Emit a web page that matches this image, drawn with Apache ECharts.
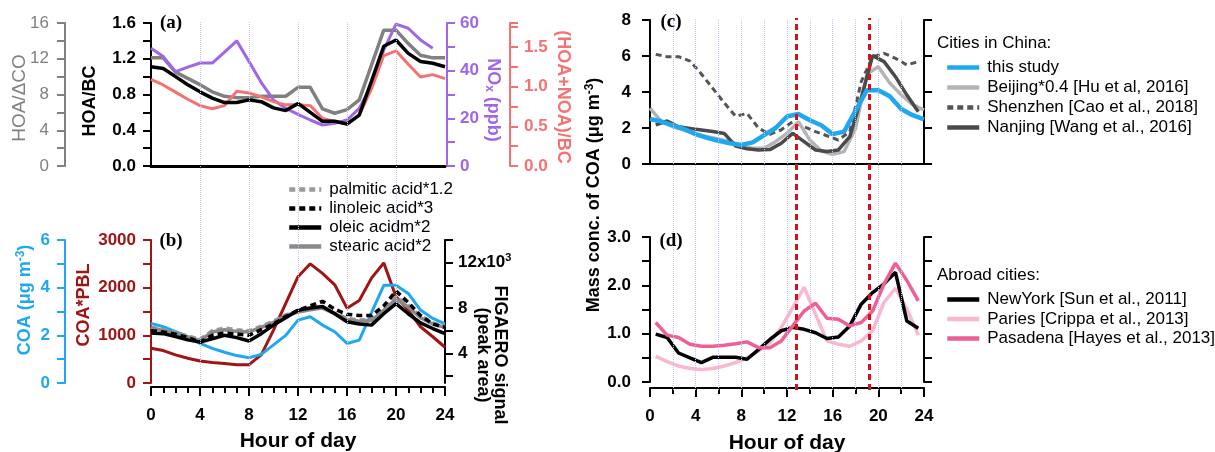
<!DOCTYPE html>
<html><head><meta charset="utf-8">
<script src="https://cdn.jsdelivr.net/npm/echarts@6/dist/echarts.min.js"></script>
<style>html,body{margin:0;padding:0;background:#fff}#c{width:1215px;height:452px}</style>
</head><body><div id="c"></div>
<script>
// ---------- data ----------
const hours = [0,1,2,3,4,5,6,7,8,9,10,11,12,13,14,15,16,17,18,19,20,21,22,23,24];
const hours23 = [0,1,2,3,4,5,6,7,8,9,10,11,12,13,14,15,16,17,18,19,20,21,22,23];
const halfHours = [0.5,1.5,2.5,3.5,4.5,5.5,6.5,7.5,8.5,9.5,10.5,11.5,12.5,13.5,14.5,15.5,16.5,17.5,18.5,19.5,20.5,21.5,22.5,23.5];

// panel (a)
const hoaBC     = [1.11,1.09,1.00,0.91,0.83,0.76,0.71,0.71,0.74,0.72,0.65,0.62,0.70,0.60,0.50,0.50,0.47,0.57,0.95,1.34,1.41,1.26,1.17,1.15,1.11];
const hoaDCO    = [12.1,12.1,10.5,9.8,9.1,8.3,7.8,7.65,7.65,7.8,7.8,7.8,8.8,8.8,6.4,5.9,6.3,7.4,11.3,15.2,15.2,13.7,12.4,12.1,12.1];
const noxPpb    = [49.4,45.9,39.6,41.5,43.2,43.2,47.8,52.5,43.8,35.0,27.7,24.2,21.7,19.3,17.2,17.9,19.3,24.2,34.0,48.7,59.5,57.8,52.9,49.4];
const hoaNoaBC  = [1.09,1.02,0.93,0.84,0.76,0.72,0.76,0.94,0.92,0.87,0.81,0.77,0.77,0.76,0.60,0.56,0.53,0.64,0.97,1.39,1.45,1.28,1.12,1.15,1.10];

// panel (b)
const coaPBL    = [730,680,590,520,460,430,410,385,385,590,1110,1670,2230,2500,2300,2060,1570,1730,2200,2520,1810,1530,1180,970,750];
const coa       = [2.50,2.36,2.15,1.94,1.66,1.45,1.29,1.15,1.06,1.20,1.60,2.00,2.64,2.78,2.43,2.15,1.66,1.80,2.95,4.10,4.10,3.76,3.06,2.71,2.48];
const palmitic  = [6.3,6.1,5.85,5.55,5.25,6.0,6.25,6.1,6.0,6.4,6.85,7.4,7.7,7.9,8.1,7.55,7.1,6.95,7.0,7.9,9.0,8.3,7.3,6.7,6.4];
const linoleic  = [6.0,5.9,5.7,5.4,5.0,5.6,5.8,5.7,5.6,6.1,6.6,7.25,7.8,8.2,8.6,7.9,7.45,7.35,7.35,8.2,9.5,8.5,7.35,6.6,6.3];
const oleic     = [5.8,5.75,5.5,5.2,5.0,5.3,5.6,5.4,5.1,5.75,6.5,7.15,7.8,8.0,8.15,7.5,6.8,6.6,6.5,7.5,8.4,7.5,6.7,6.2,5.75];
const stearic   = [6.3,6.0,5.75,5.45,5.15,5.9,6.1,5.95,5.9,6.3,6.75,7.35,7.65,7.85,8.0,7.5,7.0,6.85,6.9,7.8,8.8,8.1,7.15,6.6,6.3];

// panel (c)
const beijing04 = [3.1,2.35,2.07,1.89,1.65,1.52,1.39,1.24,1.02,0.87,0.87,1.24,1.70,2.35,1.33,0.72,0.54,0.69,1.98,5.0,5.4,4.5,3.85,3.3,3.0];
const shenzhen  = [6.09,5.96,5.96,5.72,5.0,4.2,3.4,2.65,2.81,2.0,1.65,1.9,2.35,2.07,1.8,1.57,1.33,1.8,4.57,5.96,6.15,5.87,5.5,5.69];
const nanjing   = [2.17,2.39,2.07,1.98,1.89,1.80,1.70,1.0,0.85,0.78,0.80,1.15,1.70,1.24,0.78,0.69,0.78,1.52,3.65,6.02,5.69,4.85,3.83,2.9];

// panel (d)
const newYork   = [0.99,0.92,0.60,0.50,0.40,0.51,0.51,0.51,0.47,0.67,0.88,1.06,1.13,1.09,1.02,0.90,0.93,1.16,1.61,1.85,2.03,2.27,1.26,1.11];
const paris     = [0.53,0.42,0.33,0.28,0.26,0.28,0.33,0.40,0.50,0.64,0.81,1.13,1.54,1.96,1.40,0.85,0.78,0.74,0.85,1.06,1.65,1.94,1.51,0.97];
const pasadena  = [1.23,0.97,0.92,0.78,0.74,0.74,0.76,0.79,0.83,0.71,0.71,0.85,1.16,1.47,1.63,1.32,1.30,1.16,1.23,1.47,2.03,2.46,2.10,1.68];

// guide lines / markers
const guideHoursAB = [4,8,12,16,20];
const guideHoursCD = [2,4,6,8,10,12,14,16,18,20,22];
const peakHours = [12.85, 19.2];

// ---------- chart ----------
const F = '"Liberation Sans", Arial, sans-serif';
const pairs = (xs, ys) => ys.map((v, i) => [xs[i], v]);
const fmt = (step, dec) => v => (Math.abs(v / step - Math.round(v / step)) < 1e-6 ? v.toFixed(dec) : '');

function yAx(o) {
  return {
    type: 'value', gridIndex: o.grid, position: o.pos || 'left', offset: o.offset || 0,
    min: o.min, max: o.max, interval: o.interval,
    axisLine: { show: true, onZero: false, lineStyle: { color: o.color, width: 2 } },
    axisTick: Object.assign({ show: true, length: 8, lineStyle: { color: o.color, width: 2 } }, o.tick || {}),
    axisLabel: Object.assign({ show: o.label !== false, color: o.color, fontSize: 17, fontFamily: F,
      fontWeight: o.bold === false ? 'normal' : 'bold', margin: o.margin || 14, formatter: o.fmt }, o.labelExtra || {}),
    splitLine: { show: false }
  };
}
function line(name, xi, yi, xs, ys, color, width, type, z) {
  return { name, type: 'line', xAxisIndex: xi, yAxisIndex: yi, data: pairs(xs, ys), symbol: 'none',
    lineStyle: { color, width, type: type || 'solid' }, itemStyle: { color }, z: z || 3, silent: true, animation: false };
}

const C = {
  gray: '#808080', purple: '#a066e6', salmon: '#f47272', blue: '#1fa8f0', dred: '#a01414',
  lgray: '#b4b4b4', dgray: '#555555', pinkL: '#f8b8d0', pink: '#ee5f98', red: '#d8101c', guide: '#c4c4f0'
};

const legendBase = { orient: 'vertical', itemWidth: 32, itemHeight: 18, selectedMode: false,
  itemStyle: { opacity: 0, borderWidth: 0 },
  lineStyle: { width: 4.5 },
  textStyle: { fontFamily: F, fontSize: 17, color: '#000', padding: [0, 0, 0, 3] } };

const option = {
  animation: false,
  backgroundColor: '#fff',
  grid: [
    { left: 151, top: 23, width: 294, height: 143 },   // a
    { left: 151, top: 240, width: 294, height: 143 },  // b
    { left: 650, top: 20, width: 274, height: 144 },   // c
    { left: 650, top: 237, width: 274, height: 145 },  // d
    { left: 151, top: 22, width: 294, height: 361 },   // guides a/b
    { left: 650, top: 18, width: 274, height: 372 }    // guides c/d
  ],
  xAxis: [
    { type: 'value', gridIndex: 0, min: 0, max: 24, axisLine: { lineStyle: { color: '#000', width: 3 } },
      axisTick: { show: false }, axisLabel: { show: false }, splitLine: { show: false } },
    { type: 'value', gridIndex: 1, min: 0, max: 24, interval: 4, offset: 4,
      axisLine: { onZero: false, lineStyle: { color: '#000', width: 2 } },
      axisTick: { length: 9, lineStyle: { color: '#000', width: 2 } },
      minorTick: { show: true, splitNumber: 4, length: 6, lineStyle: { color: '#000', width: 2 } },
      axisLabel: { color: '#000', fontSize: 17, fontWeight: 'bold', fontFamily: F, margin: 20 },
      splitLine: { show: false } },
    { type: 'value', gridIndex: 2, min: 0, max: 24, axisLine: { onZero: false, lineStyle: { color: '#000', width: 2 } },
      axisTick: { show: false }, axisLabel: { show: false }, splitLine: { show: false } },
    { type: 'value', gridIndex: 3, min: 0, max: 24, interval: 4, offset: 6,
      axisLine: { onZero: false, lineStyle: { color: '#000', width: 2 } },
      axisTick: { length: 9, lineStyle: { color: '#000', width: 2 } },
      minorTick: { show: true, splitNumber: 2, length: 6, lineStyle: { color: '#000', width: 2 } },
      axisLabel: { color: '#000', fontSize: 17, fontWeight: 'bold', fontFamily: F, margin: 20 },
      splitLine: { show: false } },
    { type: 'value', gridIndex: 4, min: 0, max: 24, show: false },
    { type: 'value', gridIndex: 5, min: 0, max: 24, show: false }
  ],
  yAxis: [
    yAx({ grid: 0, min: 0, max: 1.6, interval: 0.2, color: '#000', fmt: fmt(0.4, 1), margin: 15 }),                         // 0 HOA/BC
    yAx({ grid: 0, min: 0, max: 16, interval: 2, color: C.gray, fmt: fmt(4, 0), offset: 86, bold: false, margin: 16 }),    // 1 HOA/dCO
    yAx({ grid: 0, pos: 'right', offset: 2, min: 0, max: 60, interval: 10, color: C.purple, fmt: fmt(20, 0), margin: 13 }), // 2 NOx
    yAx({ grid: 0, pos: 'right', offset: 65, min: 0, max: 1.8, interval: 0.25, color: C.salmon, fmt: fmt(0.5, 1), margin: 14 }), // 3
    yAx({ grid: 1, min: 0, max: 3000, interval: 500, color: C.dred, fmt: fmt(1000, 0), margin: 15 }),                       // 4 COA*PBL
    yAx({ grid: 1, min: 0, max: 6, interval: 1, color: C.blue, fmt: fmt(2, 0), offset: 86, margin: 15 }),                   // 5 COA
    yAx({ grid: 1, pos: 'right', min: 1.4, max: 14, color: '#000', margin: 13,
      tick: { customValues: [2, 4, 6, 8, 10, 12, 14] },
      labelExtra: { customValues: [4, 8, 12],
        formatter: v => (v === 12 ? '{n|12x10}{s|3}' : '{n|' + v + '}'),
        rich: { n: { fontSize: 17, fontWeight: 'bold', fontFamily: F, color: '#000' },
                s: { fontSize: 11, fontWeight: 'bold', fontFamily: F, color: '#000', verticalAlign: 'top', padding: [0, 0, 10, 0] } } } }), // 6
    yAx({ grid: 2, min: 0, max: 8, interval: 2, color: '#000', fmt: v => String(v), margin: 19 }),                          // 7
    yAx({ grid: 2, pos: 'right', min: 0, max: 8, interval: 2, color: '#000', label: false }),                               // 8
    yAx({ grid: 3, min: 0, max: 3, interval: 0.5, color: '#000', fmt: fmt(1, 1), margin: 19 }),                             // 9
    yAx({ grid: 3, pos: 'right', min: 0, max: 3, interval: 0.5, color: '#000', label: false }),                             // 10
    { type: 'value', gridIndex: 4, min: 0, max: 1, show: false },
    { type: 'value', gridIndex: 5, min: 0, max: 1, show: false }
  ],
  legend: [
    Object.assign({}, legendBase, { left: 282, top: 176, itemGap: 2,
      data: ['palmitic acid*1.2', 'linoleic acid*3', 'oleic acidm*2', 'stearic acid*2'] }),
    Object.assign({}, legendBase, { left: 940, top: 54, itemGap: 3,
      data: ['this study', 'Beijing*0.4 [Hu et al, 2016]', 'Shenzhen [Cao et al., 2018]', 'Nanjing [Wang et al., 2016]'] }),
    Object.assign({}, legendBase, { left: 940, top: 286, itemGap: 2.5,
      data: ['NewYork [Sun et al., 2011]', 'Paries [Crippa et al., 2013]', 'Pasadena [Hayes et al., 2013]'] })
  ],
  series: [
    // guides
    { type: 'line', xAxisIndex: 4, yAxisIndex: 11, data: [[0, 0], [24, 0]], symbol: 'none', lineStyle: { opacity: 0 }, z: 1, silent: true,
      markLine: { silent: true, symbol: ['none', 'none'], label: { show: false }, animation: false,
        lineStyle: { color: C.guide, width: 1, type: 'dotted' }, data: guideHoursAB.map(h => ({ xAxis: h })) } },
    { type: 'line', xAxisIndex: 5, yAxisIndex: 12, data: [[0, 0], [24, 0]], symbol: 'none', lineStyle: { opacity: 0 }, z: 1, silent: true,
      markLine: { silent: true, symbol: ['none', 'none'], label: { show: false }, animation: false,
        lineStyle: { color: C.guide, width: 1, type: 'dotted' }, data: guideHoursCD.map(h => ({ xAxis: h })) } },
    // (a)
    line('HOA/ΔCO', 0, 1, hours, hoaDCO, C.gray, 3.5),
    line('NOx', 0, 2, hours23, noxPpb, C.purple, 3),
    line('(HOA+NOA)/BC', 0, 3, hours, hoaNoaBC, C.salmon, 3),
    line('HOA/BC', 0, 0, hours, hoaBC, '#000', 3.5),
    // (b)
    line('COA*PBL', 1, 4, hours, coaPBL, C.dred, 3),
    line('COA', 1, 5, hours, coa, C.blue, 3),
    line('palmitic acid*1.2', 1, 6, hours, palmitic, '#9a9a9a', 3.5, [6, 4]),
    line('stearic acid*2', 1, 6, hours, stearic, '#8a8a8a', 3.5),
    line('oleic acidm*2', 1, 6, hours, oleic, '#000', 3.5),
    line('linoleic acid*3', 1, 6, hours, linoleic, '#000', 3.5, [6, 4]),
    // (c)
    line('Shenzhen [Cao et al., 2018]', 2, 7, halfHours, shenzhen, C.dgray, 3, [6, 4]),
    line('Beijing*0.4 [Hu et al, 2016]', 2, 7, hours, beijing04, C.lgray, 3.5),
    line('Nanjing [Wang et al., 2016]', 2, 7, halfHours, nanjing, '#4a4a4a', 3.5),
    line('this study', 2, 7, hours, coa, C.blue, 4.5),
    // (d)
    line('Paries [Crippa et al., 2013]', 3, 9, halfHours, paris, C.pinkL, 3.5),
    line('NewYork [Sun et al., 2011]', 3, 9, halfHours, newYork, '#000', 3.5),
    line('Pasadena [Hayes et al., 2013]', 3, 9, halfHours, pasadena, C.pink, 3.5),
    // red peak markers
    { type: 'line', xAxisIndex: 5, yAxisIndex: 12, data: [[0, 0], [24, 0]], symbol: 'none', lineStyle: { opacity: 0 }, z: 6, silent: true,
      markLine: { silent: true, symbol: ['none', 'none'], label: { show: false }, animation: false,
        lineStyle: { color: C.red, width: 3, type: [6, 4] }, data: peakHours.map(h => ({ xAxis: h })) } }
  ],
  graphic: []
};

const T = (x, y, r, text, color, size, weight, rich, family) => ({
  type: 'text', x, y, rotation: r, silent: true, z: 10,
  style: { text, fill: color, fontSize: size, fontWeight: weight, fontFamily: family || F, align: 'center', verticalAlign: 'middle', rich }
});
const sup = (color, bold) => ({
  a: { fontSize: 18, fontWeight: bold, fontFamily: F, fill: color },
  s: { fontSize: 12, fontWeight: bold, fontFamily: F, fill: color, verticalAlign: 'top', padding: [0, 0, 8, 0] },
  b: { fontSize: 12, fontWeight: bold, fontFamily: F, fill: color, verticalAlign: 'bottom', padding: [8, 0, 0, 0] }
});
const P = Math.PI / 2;
option.graphic = [
  T(20, 98, P, 'HOA/ΔCO', C.gray, 19, 'normal'),
  T(90, 101, P, 'HOA/BC', '#000', 18, 'bold'),
  T(493, 100, -P, '{a|NO}{b|x}{a| (ppb)}', C.purple, 18, 'bold', sup(C.purple, 'bold')),
  T(563, 97, -P, '(HOA+NOA)/BC', C.salmon, 18, 'bold'),
  T(25, 300, P, '{a|COA (μg m}{s|-3}{a|)}', C.blue, 18, 'bold', sup(C.blue, 'bold')),
  T(84, 305, P, 'COA*PBL', C.dred, 18, 'bold'),
  { type: 'text', x: 491, y: 355, rotation: -P, silent: true, z: 10,
    style: { text: 'FIGAERO signal\n(peak area)', fill: '#000', fontSize: 18, fontWeight: 'bold', fontFamily: F,
      align: 'center', verticalAlign: 'middle', lineHeight: 17 } },
  T(594, 195, P, '{a|Mass conc. of COA (μg m}{s|-3}{a|)}', '#000', 19, 'bold', sup('#000', 'bold')),
  T(298, 441, 0, 'Hour of day', '#000', 21, 'bold'),
  T(787, 443, 0, 'Hour of day', '#000', 21, 'bold'),
  T(171, 23, 0, '(a)', '#000', 19, 'bold', null, '"Liberation Serif", serif'),
  T(171, 241, 0, '(b)', '#000', 19, 'bold', null, '"Liberation Serif", serif'),
  T(671, 22, 0, '(c)', '#000', 19, 'bold', null, '"Liberation Serif", serif'),
  T(671, 241, 0, '(d)', '#000', 19, 'bold', null, '"Liberation Serif", serif'),
  { type: 'text', x: 937, y: 43, silent: true, style: { text: 'Cities in China:', fill: '#000', fontSize: 17, fontFamily: F, verticalAlign: 'middle' } },
  { type: 'text', x: 937, y: 275, silent: true, style: { text: 'Abroad cities:', fill: '#000', fontSize: 17, fontFamily: F, verticalAlign: 'middle' } }
];

const chart = echarts.init(document.getElementById('c'), null, { renderer: 'canvas' });
chart.setOption(option);
</script>
</body></html>
